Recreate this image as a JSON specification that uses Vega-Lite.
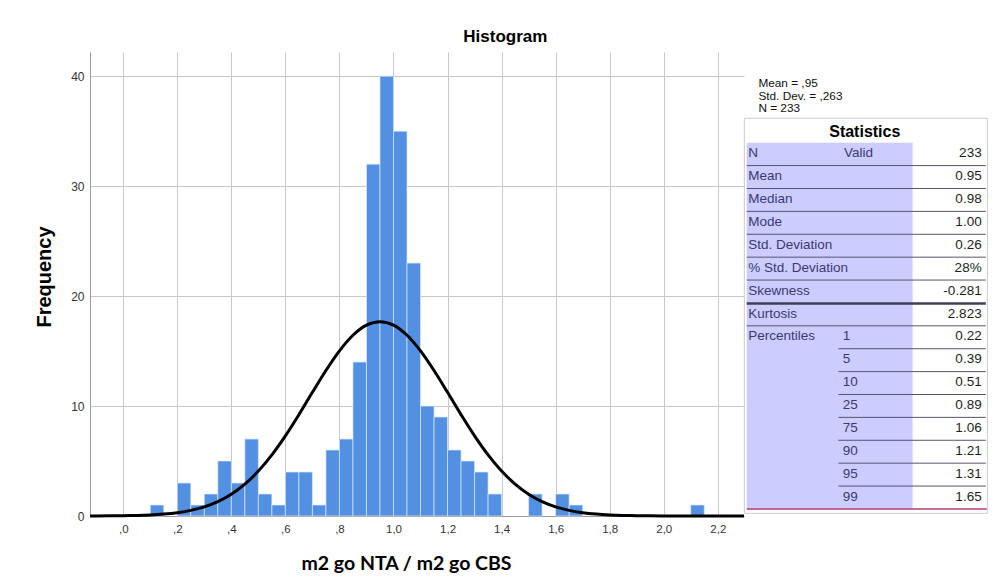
{
  "$schema": "https://vega.github.io/schema/vega-lite/v6.json",
  "background": "white",
  "padding": {"left": 34, "top": 28, "right": 4, "bottom": 4},
  "spacing": 0,
  "bounds": "flush",
  "title": {"text": "Histogram", "font": "Liberation Sans", "fontSize": 17, "fontWeight": "bold", "color": "#000000", "anchor": "middle", "offset": 6, "dx": -6},
  "config": {"view": {"stroke": null}, "font": "Liberation Sans"},
  "datasets": {
    "bins": [
      {"bin_start": 0.10, "bin_end": 0.15, "count": 1},
      {"bin_start": 0.20, "bin_end": 0.25, "count": 3},
      {"bin_start": 0.25, "bin_end": 0.30, "count": 1},
      {"bin_start": 0.30, "bin_end": 0.35, "count": 2},
      {"bin_start": 0.35, "bin_end": 0.40, "count": 5},
      {"bin_start": 0.40, "bin_end": 0.45, "count": 3},
      {"bin_start": 0.45, "bin_end": 0.50, "count": 7},
      {"bin_start": 0.50, "bin_end": 0.55, "count": 2},
      {"bin_start": 0.55, "bin_end": 0.60, "count": 1},
      {"bin_start": 0.60, "bin_end": 0.65, "count": 4},
      {"bin_start": 0.65, "bin_end": 0.70, "count": 4},
      {"bin_start": 0.70, "bin_end": 0.75, "count": 1},
      {"bin_start": 0.75, "bin_end": 0.80, "count": 6},
      {"bin_start": 0.80, "bin_end": 0.85, "count": 7},
      {"bin_start": 0.85, "bin_end": 0.90, "count": 14},
      {"bin_start": 0.90, "bin_end": 0.95, "count": 32},
      {"bin_start": 0.95, "bin_end": 1.00, "count": 40},
      {"bin_start": 1.00, "bin_end": 1.05, "count": 35},
      {"bin_start": 1.05, "bin_end": 1.10, "count": 23},
      {"bin_start": 1.10, "bin_end": 1.15, "count": 10},
      {"bin_start": 1.15, "bin_end": 1.20, "count": 9},
      {"bin_start": 1.20, "bin_end": 1.25, "count": 6},
      {"bin_start": 1.25, "bin_end": 1.30, "count": 5},
      {"bin_start": 1.30, "bin_end": 1.35, "count": 4},
      {"bin_start": 1.35, "bin_end": 1.40, "count": 2},
      {"bin_start": 1.50, "bin_end": 1.55, "count": 2},
      {"bin_start": 1.60, "bin_end": 1.65, "count": 2},
      {"bin_start": 1.65, "bin_end": 1.70, "count": 1},
      {"bin_start": 2.10, "bin_end": 2.15, "count": 1}
    ],
    "curve": [
      {"x": -0.123, "density": 0.005},
      {"x": -0.10, "density": 0.006},
      {"x": -0.05, "density": 0.013},
      {"x": 0.00, "density": 0.026},
      {"x": 0.05, "density": 0.051},
      {"x": 0.10, "density": 0.095},
      {"x": 0.15, "density": 0.173},
      {"x": 0.20, "density": 0.303},
      {"x": 0.25, "density": 0.512},
      {"x": 0.30, "density": 0.834},
      {"x": 0.35, "density": 1.310},
      {"x": 0.40, "density": 1.984},
      {"x": 0.45, "density": 2.900},
      {"x": 0.50, "density": 4.087},
      {"x": 0.55, "density": 5.557},
      {"x": 0.60, "density": 7.287},
      {"x": 0.65, "density": 9.218},
      {"x": 0.70, "density": 11.247},
      {"x": 0.75, "density": 13.233},
      {"x": 0.80, "density": 15.018},
      {"x": 0.85, "density": 16.438},
      {"x": 0.90, "density": 17.354},
      {"x": 0.95, "density": 17.670},
      {"x": 1.00, "density": 17.354},
      {"x": 1.05, "density": 16.438},
      {"x": 1.10, "density": 15.018},
      {"x": 1.15, "density": 13.233},
      {"x": 1.20, "density": 11.247},
      {"x": 1.25, "density": 9.218},
      {"x": 1.30, "density": 7.287},
      {"x": 1.35, "density": 5.557},
      {"x": 1.40, "density": 4.087},
      {"x": 1.45, "density": 2.900},
      {"x": 1.50, "density": 1.984},
      {"x": 1.55, "density": 1.310},
      {"x": 1.60, "density": 0.834},
      {"x": 1.65, "density": 0.512},
      {"x": 1.70, "density": 0.303},
      {"x": 1.75, "density": 0.173},
      {"x": 1.80, "density": 0.095},
      {"x": 1.85, "density": 0.051},
      {"x": 1.90, "density": 0.026},
      {"x": 1.95, "density": 0.013},
      {"x": 2.00, "density": 0.006},
      {"x": 2.10, "density": 0.001},
      {"x": 2.20, "density": 0.0},
      {"x": 2.297, "density": 0.0}
    ],
    "boxes": [
      {"part": "frame", "x": 0.15, "x2": 99.75, "y": -1.566, "y2": 15.69},
      {"part": "shade", "x": 1.1, "x2": 69.1, "y": -0.5, "y2": 15.5}
    ],
    "lines": [
      {"kind": "full", "x": 1.1, "x2": 99.1, "y": 0.5},
      {"kind": "full", "x": 1.1, "x2": 99.1, "y": 1.5},
      {"kind": "full", "x": 1.1, "x2": 99.1, "y": 2.5},
      {"kind": "full", "x": 1.1, "x2": 99.1, "y": 3.5},
      {"kind": "full", "x": 1.1, "x2": 99.1, "y": 4.5},
      {"kind": "full", "x": 1.1, "x2": 99.1, "y": 5.5},
      {"kind": "double", "x": 1.1, "x2": 99.1, "y": 6.52},
      {"kind": "full", "x": 1.1, "x2": 99.1, "y": 7.5},
      {"kind": "full", "x": 38.7, "x2": 99.1, "y": 8.5},
      {"kind": "full", "x": 38.7, "x2": 99.1, "y": 9.5},
      {"kind": "full", "x": 38.7, "x2": 99.1, "y": 10.5},
      {"kind": "full", "x": 38.7, "x2": 99.1, "y": 11.5},
      {"kind": "full", "x": 38.7, "x2": 99.1, "y": 12.5},
      {"kind": "full", "x": 38.7, "x2": 99.1, "y": 13.5},
      {"kind": "full", "x": 38.7, "x2": 99.1, "y": 14.5},
      {"kind": "end", "x": 1.1, "x2": 99.5, "y": 15.5}
    ],
    "labels": [
      {"x": 1.76, "row": 0, "text": "N"},
      {"x": 41.0, "row": 0, "text": "Valid"},
      {"x": 1.76, "row": 1, "text": "Mean"},
      {"x": 1.76, "row": 2, "text": "Median"},
      {"x": 1.76, "row": 3, "text": "Mode"},
      {"x": 1.76, "row": 4, "text": "Std. Deviation"},
      {"x": 1.76, "row": 5, "text": "% Std. Deviation"},
      {"x": 1.76, "row": 6, "text": "Skewness"},
      {"x": 1.76, "row": 7, "text": "Kurtosis"},
      {"x": 1.76, "row": 8, "text": "Percentiles"},
      {"x": 40.45, "row": 8, "text": "1"},
      {"x": 40.45, "row": 9, "text": "5"},
      {"x": 40.45, "row": 10, "text": "10"},
      {"x": 40.45, "row": 11, "text": "25"},
      {"x": 40.45, "row": 12, "text": "75"},
      {"x": 40.45, "row": 13, "text": "90"},
      {"x": 40.45, "row": 14, "text": "95"},
      {"x": 40.45, "row": 15, "text": "99"}
    ],
    "values": [
      {"row": 0, "text": "233"},
      {"row": 1, "text": "0.95"},
      {"row": 2, "text": "0.98"},
      {"row": 3, "text": "1.00"},
      {"row": 4, "text": "0.26"},
      {"row": 5, "text": "28%"},
      {"row": 6, "text": "-0.281"},
      {"row": 7, "text": "2.823"},
      {"row": 8, "text": "0.22"},
      {"row": 9, "text": "0.39"},
      {"row": 10, "text": "0.51"},
      {"row": 11, "text": "0.89"},
      {"row": 12, "text": "1.06"},
      {"row": 13, "text": "1.21"},
      {"row": 14, "text": "1.31"},
      {"row": 15, "text": "1.65"}
    ],
    "legend": [
      {"x": 5.9, "row": -2.92, "text": "Mean = ,95"},
      {"x": 5.9, "row": -2.366, "text": "Std. Dev. = ,263"},
      {"x": 5.9, "row": -1.828, "text": "N = 233"}
    ],
    "heading": [
      {"x": 49.5, "row": -0.762, "text": "Statistics"}
    ]
  },
  "hconcat": [
    {
      "width": 654,
      "height": 464,
      "layer": [
        {
          "data": {"name": "bins"},
          "mark": {"type": "rect", "color": "#5290e2", "stroke": "#dce8f7", "strokeWidth": 0.7},
          "encoding": {
            "x": {
              "field": "bin_start", "type": "quantitative",
              "scale": {"domain": [-0.123, 2.297], "nice": false, "zero": false},
              "axis": {
                "title": "m2 go NTA / m2 go CBS",
                "values": [0, 0.2, 0.4, 0.6, 0.8, 1.0, 1.2, 1.4, 1.6, 1.8, 2.0, 2.2],
                "labelExpr": "datum.value < 0.95 ? replace(format(datum.value, '.1f'), '0.', ',') : replace(format(datum.value, '.1f'), '.', ',')",
                "grid": true, "gridColor": "#c8c8c8", "gridWidth": 1,
                "ticks": false, "domainColor": "#999999",
                "labelFont": "Liberation Sans", "labelFontSize": 11.5, "labelColor": "#333333", "labelPadding": 7,
                "titleFont": "Lato", "titleFontSize": 19.5, "titleFontWeight": "bold", "titleColor": "#000000", "titlePadding": 20,
                "titleX": 316
              }
            },
            "x2": {"field": "bin_end"},
            "y": {
              "field": "count", "type": "quantitative",
              "scale": {"domain": [0, 42.2], "nice": false},
              "axis": {
                "title": "Frequency",
                "values": [0, 10, 20, 30, 40],
                "grid": true, "gridColor": "#c8c8c8", "gridWidth": 1,
                "ticks": false, "domainColor": "#999999",
                "labelFont": "Liberation Sans", "labelFontSize": 12, "labelColor": "#333333", "labelPadding": 6,
                "titleFont": "Liberation Sans", "titleFontSize": 20, "titleFontWeight": "bold", "titleColor": "#000000", "titlePadding": 16,
                "titleY": 224.5
              }
            },
            "y2": {"datum": 0}
          }
        },
        {
          "data": {"name": "curve"},
          "mark": {"type": "line", "color": "#000000", "strokeWidth": 3, "interpolate": "monotone"},
          "encoding": {
            "x": {"field": "x", "type": "quantitative"},
            "y": {"field": "density", "type": "quantitative"}
          }
        }
      ]
    },
    {
      "width": 244,
      "height": 464,
      "encoding": {
        "x": {"type": "quantitative", "scale": {"domain": [0, 100], "nice": false, "zero": false}, "axis": null},
        "y": {"type": "quantitative", "scale": {"domain": [-4.463, 15.808], "nice": false, "zero": false, "reverse": true}, "axis": null}
      },
      "layer": [
        {
          "data": {"name": "boxes"},
          "transform": [{"filter": "datum.part == 'frame'"}],
          "mark": {"type": "rect", "fill": "#ffffff", "stroke": "#cccccc", "strokeWidth": 1},
          "encoding": {"x": {"field": "x"}, "x2": {"field": "x2"}, "y": {"field": "y"}, "y2": {"field": "y2"}}
        },
        {
          "data": {"name": "boxes"},
          "transform": [{"filter": "datum.part == 'shade'"}],
          "mark": {"type": "rect", "fill": "#ccccff"},
          "encoding": {"x": {"field": "x"}, "x2": {"field": "x2"}, "y": {"field": "y"}, "y2": {"field": "y2"}}
        },
        {
          "data": {"name": "lines"},
          "transform": [{"filter": "datum.kind == 'full'"}],
          "mark": {"type": "rule", "color": "#55556e", "strokeWidth": 1},
          "encoding": {"x": {"field": "x"}, "x2": {"field": "x2"}, "y": {"field": "y"}}
        },
        {
          "data": {"name": "lines"},
          "transform": [{"filter": "datum.kind == 'double'"}],
          "mark": {"type": "rule", "color": "#3f3f55", "strokeWidth": 2.5},
          "encoding": {"x": {"field": "x"}, "x2": {"field": "x2"}, "y": {"field": "y"}}
        },
        {
          "data": {"name": "lines"},
          "transform": [{"filter": "datum.kind == 'end'"}],
          "mark": {"type": "rule", "color": "#b83c6e", "strokeWidth": 1.5},
          "encoding": {"x": {"field": "x"}, "x2": {"field": "x2"}, "y": {"field": "y"}}
        },
        {
          "data": {"name": "labels"},
          "mark": {"type": "text", "align": "left", "baseline": "alphabetic", "dy": 3.15, "font": "Liberation Sans", "fontSize": 13.5, "color": "#3a3a72"},
          "encoding": {"x": {"field": "x"}, "y": {"field": "row"}, "text": {"field": "text"}}
        },
        {
          "data": {"name": "values"},
          "mark": {"type": "text", "align": "right", "baseline": "alphabetic", "dy": 3.15, "font": "Liberation Sans", "fontSize": 13.5, "color": "#1e1e1e"},
          "encoding": {"x": {"datum": 97.4}, "y": {"field": "row"}, "text": {"field": "text"}}
        },
        {
          "data": {"name": "legend"},
          "mark": {"type": "text", "align": "left", "baseline": "alphabetic", "font": "Liberation Sans", "fontSize": 11.8, "color": "#111111"},
          "encoding": {"x": {"field": "x"}, "y": {"field": "row"}, "text": {"field": "text"}}
        },
        {
          "data": {"name": "heading"},
          "mark": {"type": "text", "align": "center", "baseline": "alphabetic", "font": "Liberation Sans", "fontSize": 16, "fontWeight": "bold", "color": "#000000"},
          "encoding": {"x": {"field": "x"}, "y": {"field": "row"}, "text": {"field": "text"}}
        }
      ]
    }
  ]
}
